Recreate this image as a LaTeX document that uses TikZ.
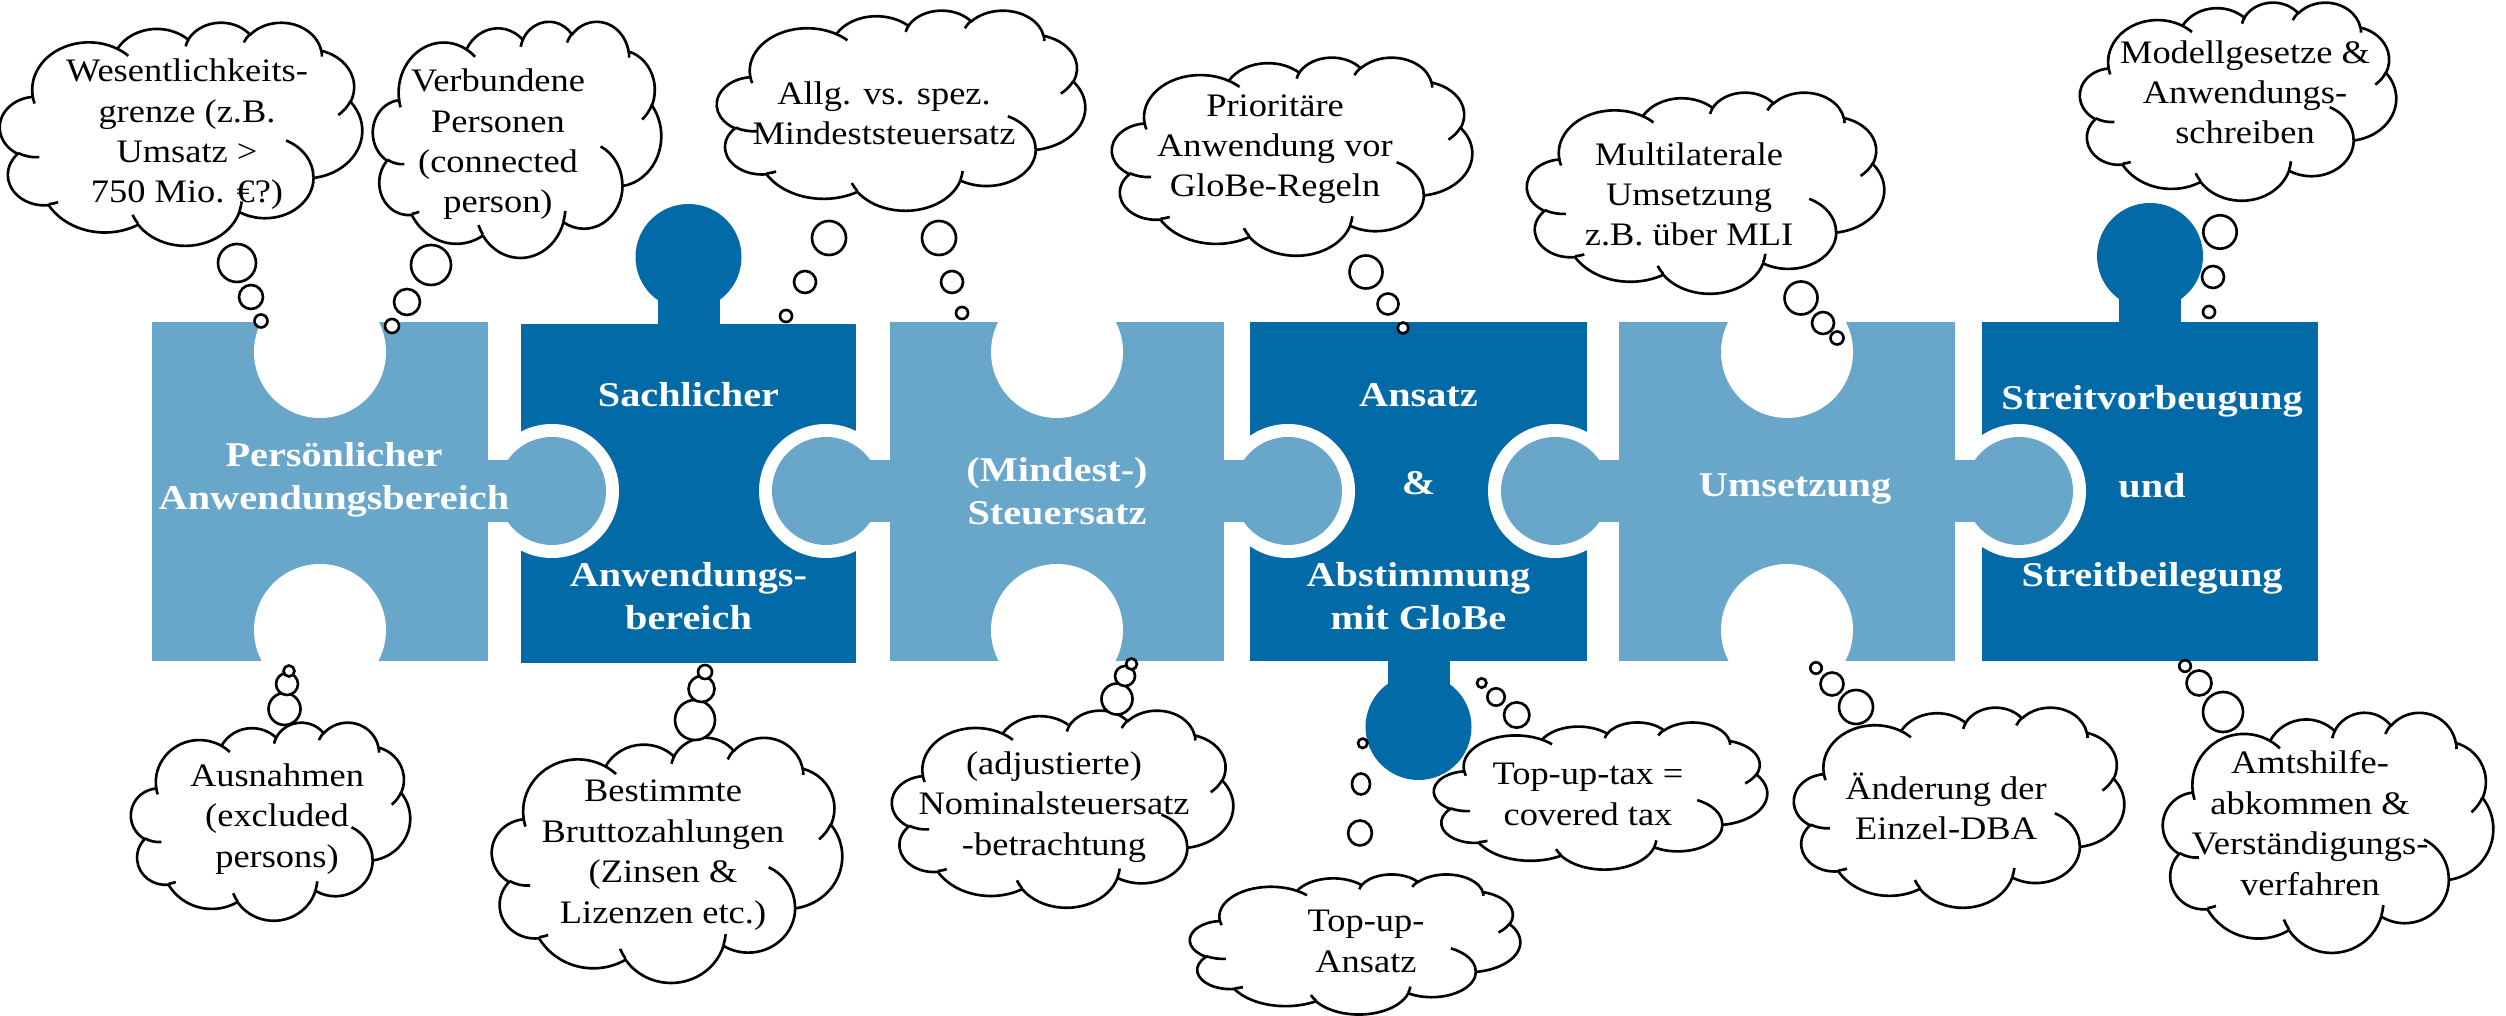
\documentclass[tikz,border=0pt]{standalone}
\usepackage{fontspec}
\setmainfont{Liberation Serif}
\newfontfamily\cloudfont{Liberation Serif}[FakeStretch=1.11]
\newfontfamily\piecefont{Liberation Serif}[FakeStretch=1.16]

\definecolor{pieceLight}{RGB}{104,166,202}
\definecolor{pieceDark}{RGB}{2,106,166}

% elliptical arc given by visual (ray) angles, as in DrawingML arcTo
\newcommand\ooarc[4]{%
  \pgfmathsetmacro\ooStart{atan2((#1)*sin(#3),(#2)*cos(#3))}%
  \pgfmathsetmacro\ooEnd{atan2((#1)*sin((#3)+(#4)),(#2)*cos((#3)+(#4)))}%
  \pgfmathsetmacro\ooEnd{(\ooStart)+mod(mod((\ooEnd)-(\ooStart),360)+360,360)}%
  \pgfpatharc{\ooStart}{\ooEnd}{#1cm and #2cm}%
}

% cloud outline in a 43.2 x 43.2 frame, scaled to left/top/width/height
\newcommand\drawcloud[4]{%
  \begin{scope}[shift={(#1,#2)}, xscale=#3/4320, yscale=-#4/4320]
    \pgfsetlinewidth{0.75pt}%
    \pgfsetroundjoin
    \pgfsetstrokecolor{black}%
    \pgfsetfillcolor{white}%
    \pgfpathmoveto{\pgfpoint{3.900cm}{14.370cm}}%
    \ooarc{6.753}{9.190}{-190.48748}{123.78053}%
    \ooarc{5.333}{7.267}{-144.10238}{89.94523}%
    \ooarc{4.365}{5.945}{-145.80792}{99.72302}%
    \ooarc{4.857}{6.595}{-130.98607}{117.24173}%
    \ooarc{5.333}{7.273}{-78.70888}{109.02692}%
    \ooarc{6.775}{9.220}{-46.26725}{130.26900}%
    \ooarc{5.785}{7.867}{0.62502}{114.03333}%
    \ooarc{6.752}{9.215}{22.45160}{115.17255}%
    \ooarc{7.720}{10.543}{66.24263}{75.71102}%
    \ooarc{4.360}{5.918}{-274.94208}{146.73557}%
    \ooarc{4.345}{5.945}{-246.82850}{152.51885}%
    \pgfpathclose
    \pgfusepath{fill,stroke}%
    \pgfpathmoveto{\pgfpoint{4.693cm}{26.177cm}}\ooarc{4.345}{5.945}{86.74200}{26.42950}%
    \pgfpathmoveto{\pgfpoint{6.928cm}{34.899cm}}\ooarc{4.360}{5.918}{73.61047}{11.44747}%
    \pgfpathmoveto{\pgfpoint{16.478cm}{39.090cm}}\ooarc{6.752}{9.215}{137.62415}{14.08110}%
    \pgfpathmoveto{\pgfpoint{28.827cm}{34.751cm}}\ooarc{6.752}{9.215}{6.45327}{15.99835}%
    \pgfpathmoveto{\pgfpoint{34.129cm}{22.954cm}}\ooarc{5.785}{7.867}{-70.29235}{70.91737}%
    \pgfpathmoveto{\pgfpoint{41.798cm}{15.354cm}}\ooarc{5.333}{7.273}{30.31803}{27.75150}%
    \pgfpathmoveto{\pgfpoint{38.324cm}{5.426cm}}\ooarc{4.857}{6.595}{-13.74433}{14.85890}%
    \pgfpathmoveto{\pgfpoint{29.078cm}{3.952cm}}\ooarc{4.857}{6.595}{-149.18145}{18.19537}%
    \pgfpathmoveto{\pgfpoint{22.141cm}{4.720cm}}\ooarc{4.365}{5.945}{-163.49427}{17.68635}%
    \pgfpathmoveto{\pgfpoint{14.000cm}{5.192cm}}\ooarc{6.753}{9.190}{-66.70695}{12.31935}%
    \pgfpathmoveto{\pgfpoint{4.127cm}{15.789cm}}\ooarc{6.753}{9.190}{157.65435}{11.85817}%
    \pgfusepath{stroke}%
  \end{scope}}

% labels are placed by the baseline of their last line
\tikzset{
  bubble/.style={draw=black, fill=white, line width=0.75pt},
  cloudtext/.style={font=\cloudfont\fontsize{9.33}{11.5}\selectfont, align=center, anchor=base, inner sep=0pt},
  piecetext/.style={font=\piecefont\bfseries\fontsize{9.87}{12.4}\selectfont, text=white, align=center, anchor=base, inner sep=0pt},
  lightfill/.style={fill=pieceLight},
  darkfill/.style={fill=pieceDark},
  gapfill/.style={fill=white}
}

\begin{document}
\begin{tikzpicture}[x=0.01cm, y=-0.01cm]
\useasboundingbox (0,0) rectangle (2506,1016);

% ---- dark pieces with their tabs
\fill[darkfill] (521,324) rectangle (856,663);
\fill[darkfill] (657.5,250) rectangle (719.5,325);
\fill[darkfill] (688.5,257) circle[radius=53];
\fill[darkfill] (1250,322) rectangle (1587,661);
\fill[darkfill] (1387.5,660) rectangle (1449.5,735);
\fill[darkfill] (1418.5,727) circle[radius=53];
\fill[darkfill] (1982,322) rectangle (2318,661);
\fill[darkfill] (2119,250) rectangle (2181,323);
\fill[darkfill] (2150,256) circle[radius=53];

% ---- sockets in the dark pieces
\foreach \sx in {552,826,1288,1555,2019}
  \fill[gapfill] (\sx,491) circle[radius=67];

% ---- light pieces with their knobs
\fill[lightfill] (152,322) rectangle (488,661);
\fill[lightfill] (487,460) rectangle (552,522);
\fill[lightfill] (552,491) circle[radius=54];
\fill[lightfill] (890,322) rectangle (1224,661);
\fill[lightfill] (826,460) rectangle (891,522);
\fill[lightfill] (826,491) circle[radius=54];
\fill[lightfill] (1223,460) rectangle (1288,522);
\fill[lightfill] (1288,491) circle[radius=54];
\fill[lightfill] (1619,322) rectangle (1955,661);
\fill[lightfill] (1555,460) rectangle (1620,522);
\fill[lightfill] (1555,491) circle[radius=54];
\fill[lightfill] (1954,460) rectangle (2019,522);
\fill[lightfill] (2019,491) circle[radius=54];

% ---- holes in the light pieces
\foreach \hx in {320,1057,1787}{
  \fill[gapfill] (\hx,352) circle[radius=66];
  \fill[gapfill] (\hx,630) circle[radius=66];
}

% ---- piece labels
\node[piecetext] (p1) at (334,510) {Persönlicher\\Anwendungsbereich};
\node[piecetext] (p2a) at (688.5,407) {Sachlicher};
\node[piecetext] (p2b) at (688.5,630) {Anwendungs-\\bereich};
\node[piecetext] (p3) at (1057,525) {(Mindest-)\\Steuersatz};
\node[piecetext] (p4a) at (1418.5,407) {Ansatz};
\node[piecetext] (p4b) at (1418.5,495) {\&};
\node[piecetext] (p4c) at (1418.5,630) {Abstimmung\\mit GloBe};
\node[piecetext] (p5) at (1795,497) {Umsetzung};
\node[piecetext] (p6a) at (2152,410) {Streitvorbeugung};
\node[piecetext] (p6b) at (2152,498) {und};
\node[piecetext] (p6c) at (2152,587) {Streitbeilegung};

% ---- clouds
\drawcloud{0}{22}{362}{223}
\drawcloud{373}{21}{288}{236}
\drawcloud{717}{10}{368}{200}
\drawcloud{1112}{57}{360}{198}
\drawcloud{1527}{92}{357}{201}
\drawcloud{2080}{2}{316}{198}
\drawcloud{131}{722}{279}{198}
\drawcloud{492}{737}{350}{245}
\drawcloud{892}{710}{341}{197}
\drawcloud{1434}{722}{333}{147}
\drawcloud{1190}{874}{330}{140}
\drawcloud{1794}{707}{330}{200}
\drawcloud{2163}{712}{330}{240}

% ---- thought bubbles
\draw[bubble] (237,263) circle[radius=19];
\draw[bubble] (251,297) circle[radius=12];
\draw[bubble] (261,321) circle[radius=6.5];
\draw[bubble] (431,265) circle[radius=20];
\draw[bubble] (407,302) circle[radius=13];
\draw[bubble] (392,326) circle[radius=7];
\draw[bubble] (829,238) circle[radius=17];
\draw[bubble] (805,282) circle[radius=11];
\draw[bubble] (786,316) circle[radius=6];
\draw[bubble] (939,238) circle[radius=17];
\draw[bubble] (952,282) circle[radius=11];
\draw[bubble] (962,313) circle[radius=6];
\draw[bubble] (1366,272) circle[radius=16.5];
\draw[bubble] (1388,304) circle[radius=10.5];
\draw[bubble] (1403,328) circle[radius=5.5];
\draw[bubble] (1801,298) circle[radius=16.5];
\draw[bubble] (1823,323) circle[radius=11];
\draw[bubble] (1837,338) circle[radius=6.5];
\draw[bubble] (2220,232) circle[radius=16.7];
\draw[bubble] (2213,277) circle[radius=11];
\draw[bubble] (2209,312) circle[radius=6];
\draw[bubble] (284.5,709) circle[radius=16];
\draw[bubble] (287,684) circle[radius=11];
\draw[bubble] (289,671) circle[radius=5.5];
\draw[bubble] (695,720) circle[radius=20];
\draw[bubble] (701.5,689) circle[radius=13];
\draw[bubble] (705,672) circle[radius=7];
\draw[bubble] (1117,699) circle[radius=15.5];
\draw[bubble] (1125,676) circle[radius=10];
\draw[bubble] (1131.5,664) circle[radius=5.5];
\draw[bubble] (1516.7,715) circle[radius=12.7];
\draw[bubble] (1496,697) circle[radius=8.7];
\draw[bubble] (1481.7,683) circle[radius=4.7];
\draw[bubble] (1360,833) ellipse[x radius=11.9, y radius=12.5];
\draw[bubble] (1361,784) ellipse[x radius=9, y radius=10.5];
\draw[bubble] (1362.7,743.3) circle[radius=4.7];
\draw[bubble] (1856,707) circle[radius=17];
\draw[bubble] (1832,684) circle[radius=11.5];
\draw[bubble] (1816,668) circle[radius=5.7];
\draw[bubble] (2223,712) circle[radius=20];
\draw[bubble] (2199,683) circle[radius=12.5];
\draw[bubble] (2185,666) circle[radius=5.8];

% ---- cloud texts
\node[cloudtext] (c1) at (187,203) {Wesentlichkeits-\\grenze (z.B.\\Umsatz >\\750 Mio. €?)};
\node[cloudtext] (c2) at (498,213) {Verbundene\\Personen\\(connected\\person)};
\node[cloudtext] (c3) at (884,145) {Allg. vs. spez.\\Mindeststeuersatz};
\node[cloudtext] (c4) at (1275,197) {Prioritäre\\Anwendung vor\\GloBe-Regeln};
\node[cloudtext] (c5) at (1689,246) {Multilaterale\\Umsetzung\\z.B. über MLI};
\node[cloudtext] (c6) at (2245,144) {Modellgesetze \&\\Anwendungs-\\schreiben};
\node[cloudtext] (c7) at (277,867) {Ausnahmen\\(excluded\\persons)};
\node[cloudtext] (c8) at (663,923) {Bestimmte\\Bruttozahlungen\\(Zinsen \&\\Lizenzen etc.)};
\node[cloudtext] (c9) at (1054,855) {(adjustierte)\\Nominalsteuersatz\\-betrachtung};
\node[cloudtext] (c10) at (1588,825) {Top-up-tax =\\covered tax};
\node[cloudtext] (c11) at (1366,972) {Top-up-\\Ansatz};
\node[cloudtext] (c12) at (1946,840) {Änderung der\\Einzel-DBA};
\node[cloudtext] (c13) at (2310,895) {Amtshilfe-\\abkommen \&\\Verständigungs-\\verfahren};
\end{tikzpicture}
\end{document}
